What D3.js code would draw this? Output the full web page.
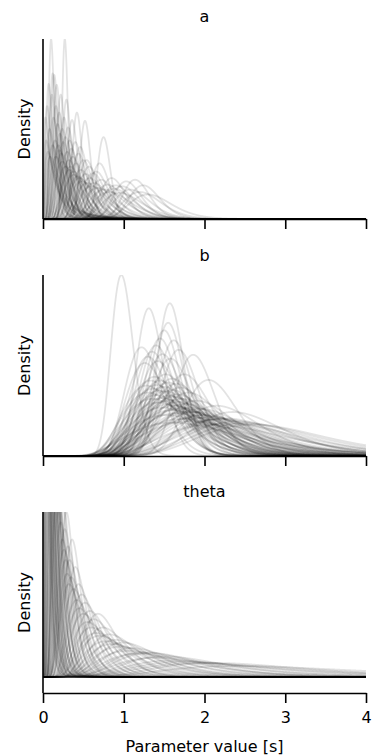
<!DOCTYPE html>
<html>
<head>
<meta charset="utf-8">
<script src="https://cdn.jsdelivr.net/npm/d3@7"></script>
<style>
  html, body { margin: 0; padding: 0; background: #fff; }
  svg { display: block; font-family: "DejaVu Sans", sans-serif; }
</style>
</head>
<body>
<svg id="chart" width="377" height="756"></svg>
<script>
// ---------------- data ----------------
const xTicks = [0, 1, 2, 3, 4];
const panelTitles = ["a", "b", "theta"];
const xLabel = "Parameter value [s]";
const yLabel = "Density";

// each curve: mode (s) and peak density
const aModes   = [0.10,0.27,0.03,0.04,0.05,0.06,0.07,0.08,0.09,0.11,0.12,0.13,0.14,0.15,0.16,0.17,0.18,0.19,0.20,0.21,0.22,0.23,0.24,0.25,0.26,0.28,0.29,0.30,0.31,0.32,0.33,0.34,0.35,0.36,0.37,0.38,0.40,0.41,0.42,0.43,0.44,0.46,0.47,0.48,0.50,0.52,0.53,0.54,0.55,0.57,0.58,0.60,0.62,0.63,0.66,0.68,0.70,0.72,0.75,0.76,0.80,0.82,0.85,0.88,0.90,0.95,0.98,1.03,1.08,1.14,1.20,1.24,1.30,0.12,0.16,0.20,0.24,0.28,0.33,0.38,0.45];
const aHeights = [11.0,11.0,6.2,4.8,6.9,4.1,8.25,5.5,3.8,7.6,8.9,6.2,8.8,4.8,6.9,8.2,5.8,4.5,6.5,5.2,7.6,4.0,5.5,4.7,6.2,5.0,7.3,4.1,5.6,3.6,4.8,3.2,4.3,6.05,3.8,2.9,4.7,3.4,6.5,2.6,4.0,4.4,3.0,2.3,3.6,6.0,2.75,3.6,2.2,3.2,2.5,2.0,2.8,2.2,2.9,1.9,3.4,2.4,5.0,1.8,2.1,1.65,2.5,1.85,2.06,1.6,2.0,2.3,1.8,2.4,1.65,2.06,1.5,4.5,3.8,4.2,3.5,3.2,3.0,2.7,2.5];

const bModes   = [0.97,1.31,1.57,1.55,1.50,1.45,1.62,1.40,1.22,1.35,1.68,1.48,1.30,1.86,1.58,1.42,1.26,1.52,1.75,1.38,1.60,2.05,1.33,1.45,1.55,1.65,1.40,1.28,1.50,1.70,1.36,1.60,1.44,1.52,1.80,1.30,1.66,1.40,1.56,1.62,1.47,1.72,1.35,1.58,1.90,1.50,1.68,1.42,1.76,1.55,1.62,2.15,1.85,1.48,1.70,1.95,1.60,1.78,2.35,1.65,2.00,1.52,1.88,2.20,1.72,2.50,1.80,1.60,2.10,1.82,1.95,2.05,2.25,2.40,2.60,1.70,1.90,2.15,2.30];
const bHeights = [2.88,2.35,2.43,2.12,2.00,1.87,1.84,1.76,1.73,1.66,1.69,1.62,1.58,1.61,1.55,1.51,1.48,1.30,1.30,1.26,1.23,1.21,1.20,1.20,1.17,1.15,1.13,1.12,1.10,1.09,1.07,1.05,1.04,1.03,1.01,1.01,0.98,0.97,0.96,0.94,0.92,0.91,0.91,0.89,0.88,0.87,0.86,0.85,0.83,0.82,0.80,0.80,0.77,0.77,0.77,0.75,0.73,0.71,0.70,0.68,0.65,0.65,0.61,0.59,0.59,0.52,0.55,0.53,0.50,0.70,0.65,0.62,0.60,0.55,0.50,0.75,0.70,0.58,0.52];

const thetaModes   = [0.02,0.03,0.04,0.05,0.06,0.07,0.08,0.09,0.10,0.11,0.12,0.13,0.14,0.15,0.16,0.17,0.18,0.19,0.20,0.21,0.22,0.23,0.24,0.25,0.26,0.27,0.28,0.29,0.30,0.31,0.32,0.33,0.35,0.36,0.38,0.40,0.42,0.44,0.45,0.48,0.50,0.52,0.55,0.58,0.60,0.63,0.66,0.68,0.70,0.74,0.78,0.82,0.86,0.90,0.95,0.99,1.05,1.10,1.18,1.25,1.32,1.40,1.50,1.62,1.75,1.90,2.10,2.40,0.035,0.055,0.075,0.095,0.115,0.135,0.155,0.175];
const thetaHeights = [20,14.4,11.2,16,9.6,12.8,8,10.4,7.2,8.8,6.8,11.2,6,8,6.4,5.2,7.2,5.6,4.96,6.4,4.5,5.6,4,5.1,3.7,4.3,3.4,4.8,3.0,3.8,2.7,3.4,2.9,4,2.56,3.2,2.24,2.7,2,2.4,1.84,2.16,1.6,1.92,1.44,1.68,1.28,1.84,1.2,1.44,1.04,1.24,0.96,1.08,0.88,1.0,0.76,0.84,0.68,0.72,0.7,0.56,0.6,0.48,0.44,0.4,0.41,0.32,15,11,9,12,7,9,6.5,5.5];

const yMaxes = [11, 2.88, 4.8];

// ---------------- layout ----------------
const svg = d3.select("#chart");
const x = d3.scaleLinear().domain([0, 4]).range([43, 366]);
const panels = [
  {modes: aModes, heights: aHeights, top: 39, bottom: 219, zeroY: 219, titleY: 22},
  {modes: bModes, heights: bHeights, top: 275, bottom: 456, zeroY: 456, titleY: 261},
  {modes: thetaModes, heights: thetaHeights, top: 512, bottom: 693, zeroY: 677, titleY: 497}
];

const SQ2PI = Math.sqrt(2 * Math.PI);
function sigmaFor(m, h) {
  let lo = 1e-4, hi = 6;
  for (let i = 0; i < 80; i++) {
    const mid = (lo + hi) / 2;
    const v = Math.exp(-mid * mid / 2) / (m * mid * SQ2PI);
    if (v > h) lo = mid; else hi = mid;
  }
  return (lo + hi) / 2;
}
function lognormal(t, m, s) {
  if (t <= 0) return 0;
  const mu = Math.log(m) + s * s;
  const z = (Math.log(t) - mu) / s;
  return Math.exp(-z * z / 2) / (t * s * SQ2PI);
}
const grid = d3.range(0, 4.0005, 0.002);

panels.forEach((p, i) => {
  const yMax = yMaxes[i];
  const yMin = -yMax * (p.bottom - p.zeroY) / (p.zeroY - p.top);
  const y = d3.scaleLinear().domain([yMin, yMax]).range([p.bottom, p.top]);

  const clipId = "clip" + i;
  svg.append("clipPath").attr("id", clipId)
    .append("rect").attr("x", x(0)).attr("y", p.top)
    .attr("width", x(4) - x(0)).attr("height", p.bottom - p.top);

  const line = d3.line().x(d => x(d[0])).y(d => y(d[1]));
  const g = svg.append("g").attr("clip-path", `url(#${clipId})`);
  p.modes.forEach((m, k) => {
    const s = sigmaFor(m, p.heights[k]);
    const pts = grid.map(t => [t, Math.min(lognormal(t, m, s), yMax * 3)]);
    g.append("path").attr("d", line(pts))
      .attr("fill", "none").attr("stroke", "#000")
      .attr("stroke-opacity", 0.11).attr("stroke-width", 1.8)
      .attr("stroke-linejoin", "round");
  });

  svg.append("line").attr("x1", x(0)).attr("x2", x(0))
    .attr("y1", p.top).attr("y2", p.bottom)
    .attr("stroke", "#000").attr("stroke-width", 1.6);

  const axis = d3.axisBottom(x).tickValues(xTicks).tickSize(10).tickSizeOuter(0)
    .tickPadding(9).tickFormat(i < 2 ? "" : d3.format("d"));
  const ax = svg.append("g").attr("transform", `translate(0,${p.bottom})`).call(axis);
  ax.select(".domain").attr("stroke", "#000").attr("stroke-width", 1.6);
  ax.selectAll(".tick line").attr("stroke", "#000").attr("stroke-width", 1.6);
  ax.selectAll(".tick text").attr("font-size", 16).attr("fill", "#000")
    .attr("font-family", "DejaVu Sans, sans-serif");

  svg.append("text").attr("x", (x(0) + x(4)) / 2).attr("y", p.titleY)
    .attr("text-anchor", "middle").attr("font-size", 16).attr("fill", "#000")
    .text(panelTitles[i]);

  svg.append("text")
    .attr("transform", `translate(30,${(p.top + p.bottom) / 2}) rotate(-90)`)
    .attr("text-anchor", "middle").attr("font-size", 16).attr("fill", "#000")
    .text(yLabel);
});

svg.append("text").attr("x", (x(0) + x(4)) / 2).attr("y", 752)
  .attr("text-anchor", "middle").attr("font-size", 16).attr("fill", "#000")
  .text(xLabel);
</script>
</body>
</html>
